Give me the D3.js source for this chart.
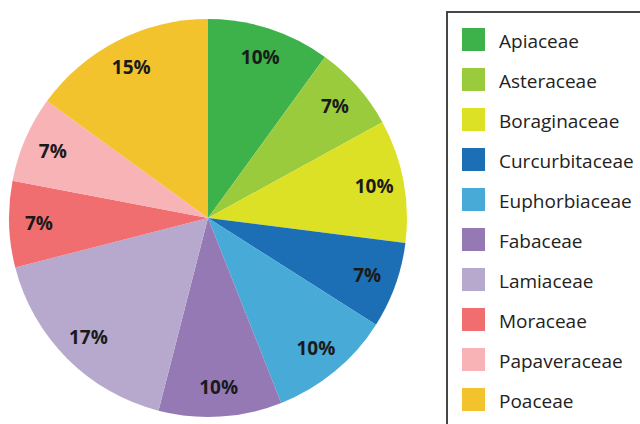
<!DOCTYPE html>
<html>
<head>
<meta charset="utf-8">
<script src="https://cdn.jsdelivr.net/npm/d3@7"></script>
<style>
  html, body { margin: 0; padding: 0; background: #fff; }
  svg { display: block; }
</style>
</head>
<body>
<svg id="chart" width="640" height="424"></svg>
<script>
// Plant families and their share of the total (%)
const families = ["Apiaceae", "Asteraceae", "Boraginaceae", "Curcurbitaceae", "Euphorbiaceae",
                  "Fabaceae", "Lamiaceae", "Moraceae", "Papaveraceae", "Poaceae"];
const shares = [10, 7, 10, 7, 10, 10, 17, 7, 7, 15];
const colors = ["#3db14a", "#9acb3c", "#dce125", "#1d6fb5", "#47aad7",
                "#9479b5", "#b6a9cd", "#f06e6f", "#f7b3b5", "#f2c32c"];

const svg = d3.select("#chart");
const cx = 208, cy = 218, R = 199;

const color = d3.scaleOrdinal().domain(families).range(colors);
const data = families.map((f, i) => ({ family: f, value: shares[i] }));

const pie = d3.pie().sort(null).value(d => d.value);
const arc = d3.arc().innerRadius(0).outerRadius(R);
const labelArc = d3.arc().innerRadius(R * 0.85).outerRadius(R * 0.85);

const g = svg.append("g").attr("transform", `translate(${cx},${cy})`);
const arcs = pie(data);

g.selectAll("path.slice")
  .data(arcs)
  .join("path")
  .attr("class", "slice")
  .attr("d", arc)
  .attr("fill", d => color(d.data.family));

g.selectAll("text.pct")
  .data(arcs)
  .join("text")
  .attr("class", "pct")
  .attr("transform", d => `translate(${labelArc.centroid(d)})`)
  .attr("text-anchor", "middle")
  .attr("dy", "0.36em")
  .style("font-family", "'Open Sans', sans-serif")
  .style("font-weight", 700)
  .style("font-size", "19px")
  .style("fill", "#1a1a1a")
  .text(d => d.data.value + "%");

// Legend panel
const legend = svg.append("g");
legend.append("rect")
  .attr("x", 447).attr("y", 12)
  .attr("width", 220).attr("height", 430)
  .attr("fill", "none")
  .attr("stroke", "#333")
  .attr("stroke-width", 1.8);

const rowY = d3.scaleBand().domain(families).range([28, 428]).paddingInner(0);

const rows = legend.selectAll("g.row")
  .data(families)
  .join("g")
  .attr("class", "row")
  .attr("transform", d => `translate(0,${rowY(d)})`);

rows.append("rect")
  .attr("x", 462).attr("y", 0)
  .attr("width", 23).attr("height", 23)
  .attr("fill", d => color(d));

rows.append("text")
  .attr("x", 499).attr("y", 20)
  .style("font-family", "'Open Sans', sans-serif")
  .style("font-size", "19px")
  .style("fill", "#222")
  .text(d => d);
</script>
</body>
</html>
